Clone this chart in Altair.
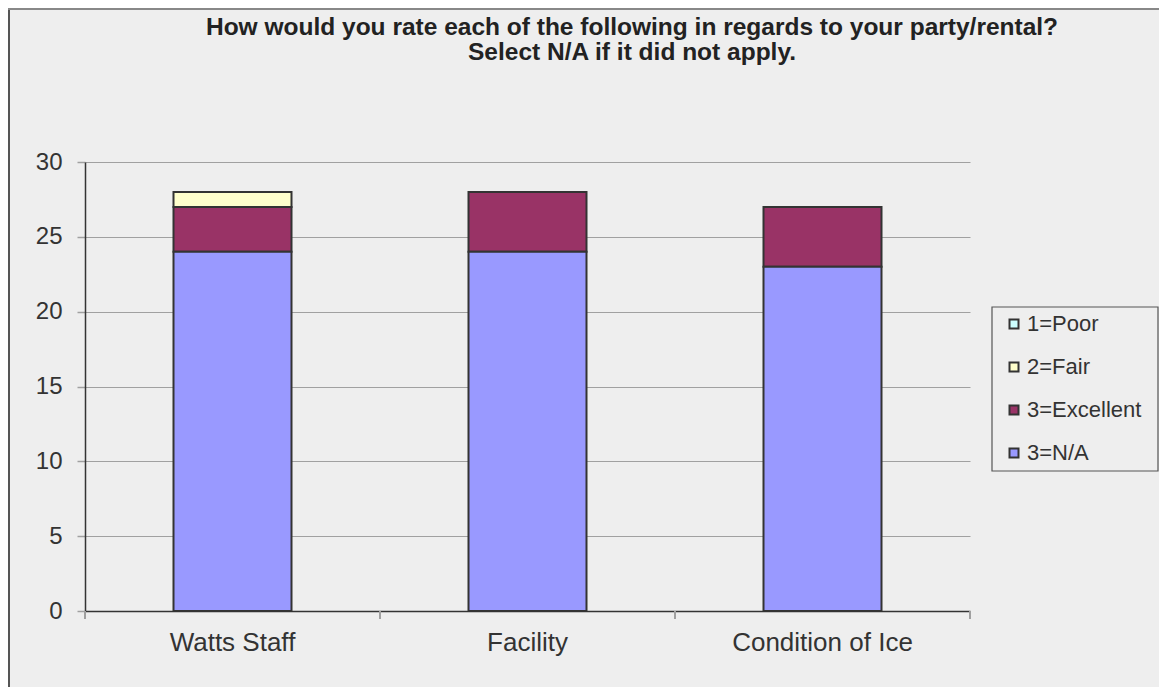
import altair as alt
import pandas as pd

categories = ["Watts Staff", "Facility", "Condition of Ice"]
series = ["1=Poor", "2=Fair", "3=Excellent", "3=N/A"]
poor = [0, 0, 0]
fair = [1, 0, 0]
excellent = [3, 4, 4]
na = [24, 24, 23]
colors = ["#CCFFFF", "#FFFFCC", "#993366", "#9999FF"]
title_lines = [
    "How would you rate each of the following in regards to your party/rental?",
    "Select N/A if it did not apply.",
]
y_ticks = [0, 5, 10, 15, 20, 25, 30]

FONT = "Liberation Sans"
W, H = 885, 449

rows = []
for i, c in enumerate(categories):
    for j, (s, vals) in enumerate(zip(series, [poor, fair, excellent, na])):
        rows.append({"category": c, "series": s, "value": vals[i], "order": 3 - j})
df = pd.DataFrame(rows)

one = pd.DataFrame({"k": [0]})

# legend frame (drawn under the legend)
legend_box = alt.Chart(one).mark_rect(fill="#EEEEEE", stroke="#555555", strokeWidth=1.2).encode(
    x=alt.value(907), x2=alt.value(1073), y=alt.value(145), y2=alt.value(309)
)

bars = (
    alt.Chart(df)
    .transform_filter("datum.value > 0")
    .mark_bar(stroke="#333333", strokeWidth=2)
    .encode(
        x=alt.X(
            "category:N",
            sort=categories,
            scale=alt.Scale(paddingInner=0.6, paddingOuter=0.3),
            axis=alt.Axis(
                title=None, labelAngle=0, labelFontSize=26, labelColor="#333333",
                labelFont=FONT, ticks=False, domainColor="#333333", domainWidth=1.5,
                labelPadding=18, labelLimit=0,
            ),
        ),
        y=alt.Y(
            "value:Q",
            stack="zero",
            scale=alt.Scale(domain=[0, 30], nice=False),
            axis=alt.Axis(
                values=y_ticks, title=None, labelFontSize=24, labelColor="#333333",
                labelFont=FONT, tickSize=8, tickColor="#A0A0A0", tickWidth=1.5,
                gridColor="#A0A0A0", gridWidth=1.2, domainColor="#333333",
                domainWidth=1.5, labelPadding=15,
            ),
        ),
        color=alt.Color(
            "series:N",
            scale=alt.Scale(domain=series, range=colors),
            legend=alt.Legend(
                title=None, orient="none", legendX=918, legendY=151,
                symbolType="square", symbolSize=81, symbolStrokeColor="#333333",
                symbolStrokeWidth=2, labelFontSize=22, labelFont=FONT,
                labelColor="#333333", rowPadding=21, padding=0, labelOffset=2,
                labelLimit=0,
            ),
        ),
        order=alt.Order("order:Q"),
    )
)

# x-axis category boundary ticks
tick_layers = [
    alt.Chart(one).mark_rule(color="#A0A0A0", strokeWidth=2).encode(
        x=alt.value(px), y=alt.value(H), y2=alt.value(H + 8)
    )
    for px in [0, W / 3, 2 * W / 3, W]
]

title1 = alt.Chart(pd.DataFrame({"t": [title_lines[0]]})).mark_text(
    font=FONT, fontSize=24.5, fontWeight="bold", color="#222222", align="center", baseline="middle"
).encode(text="t:N", x=alt.value(547), y=alt.value(-134))
title2 = alt.Chart(pd.DataFrame({"t": [title_lines[1]]})).mark_text(
    font=FONT, fontSize=24.5, fontWeight="bold", color="#222222", align="center", baseline="middle"
).encode(text="t:N", x=alt.value(547), y=alt.value(-109))

# outer frame edges (left & top)
frame_left = alt.Chart(one).mark_rule(color="#555555", strokeWidth=2).encode(
    x=alt.value(-76), y=alt.value(-154), y2=alt.value(H + 76)
)
frame_top = alt.Chart(one).mark_rule(color="#888888", strokeWidth=2).encode(
    x=alt.value(-77), x2=alt.value(W + 189), y=alt.value(-153)
)

chart = (
    alt.layer(legend_box, bars, *tick_layers, title1, title2, frame_left, frame_top)
    .properties(
        width=W, height=H,
        autosize=alt.AutoSizeParams(type="none"),
        padding={"left": 77, "top": 154, "right": 189, "bottom": 76},
        background="#EEEEEE",
    )
    .configure_view(stroke=None)
)

chart.save("out.html", embed_options={"renderer": "svg", "actions": False})
